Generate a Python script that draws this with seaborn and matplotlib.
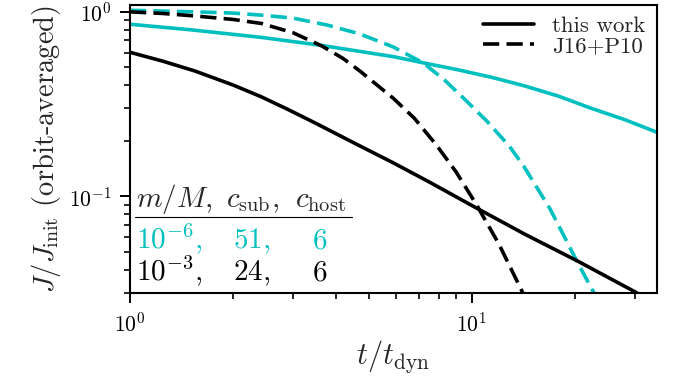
import matplotlib
matplotlib.use("Agg")
import numpy as np
import pandas as pd
import seaborn as sns
import matplotlib.pyplot as plt
from matplotlib.lines import Line2D
from matplotlib.ticker import NullFormatter

# Orbit-averaged J/J_init versus t/t_dyn for two subhalo configurations
mass_ratios = ["10^{-6}", "10^{-3}"]
c_sub = [51, 24]
c_host = [6, 6]
colors = ["#00bfbf", "black"]

# m/M = 1e-6 (cyan)
t_light_this = [1.0, 1.5, 2.43, 3.6, 5.9, 7.2, 9.14, 11.5, 14.3, 18.0, 22.2, 28.0, 34.8]
J_light_this = [0.857, 0.80, 0.727, 0.66, 0.572, 0.53, 0.485, 0.441, 0.397, 0.349,
                0.302, 0.261, 0.223]
t_light_j16 = [1.0, 1.55, 2.0, 2.42, 3.0, 3.76, 4.7, 5.9, 7.2, 8.3, 9.56, 11.1,
               12.9, 14.2, 17.0, 20.6, 22.7, 24.0]
J_light_j16 = [1.02, 1.0, 0.985, 0.96, 0.925, 0.85, 0.76, 0.645, 0.53, 0.43, 0.335,
               0.255, 0.187, 0.146, 0.085, 0.0425, 0.0305, 0.025]

# m/M = 1e-3 (black)
t_heavy_this = [1.0, 1.25, 1.55, 2.0, 2.42, 2.9, 3.47, 4.6, 5.9, 7.5, 10.34, 14.3,
                20.6, 30.0, 34.8]
J_heavy_this = [0.604, 0.54, 0.478, 0.402, 0.347, 0.296, 0.251, 0.192, 0.152, 0.12,
                0.0865, 0.0625, 0.0443, 0.0305, 0.0261]
t_heavy_j16 = [1.0, 1.25, 1.55, 2.0, 2.42, 3.0, 3.64, 4.2, 4.71, 5.9, 6.8, 7.9, 9.0,
               10.34, 12.0, 14.0, 15.0]
J_heavy_j16 = [1.0, 0.98, 0.95, 0.91, 0.866, 0.771, 0.654, 0.56, 0.478, 0.34, 0.265,
               0.189, 0.136, 0.09, 0.0555, 0.031, 0.0233]

models = ["this work", "J16+P10"]


def frame(t, J, mass, model):
    return pd.DataFrame({"t": t, "J": J, "mass": mass, "model": model})


df = pd.concat([
    frame(t_light_this, J_light_this, mass_ratios[0], models[0]),
    frame(t_light_j16, J_light_j16, mass_ratios[0], models[1]),
    frame(t_heavy_this, J_heavy_this, mass_ratios[1], models[0]),
    frame(t_heavy_j16, J_heavy_j16, mass_ratios[1], models[1]),
], ignore_index=True)

sns.set_style("ticks")
plt.rcParams.update({
    "font.family": "serif",
    "font.serif": ["cmr10"],
    "mathtext.fontset": "cm",
    "axes.unicode_minus": False,
    "axes.formatter.use_mathtext": True,
    "axes.linewidth": 1.5,
    "axes.edgecolor": "black",
    "xtick.color": "black",
    "ytick.color": "black",
})

LW = 2.6
dash_style = (4.5, 2.0)

fig = plt.figure(figsize=(6.77, 3.81), dpi=100)
ax = fig.add_axes([0.192, 0.231, 0.778, 0.756])

sns.lineplot(
    data=df, x="t", y="J", hue="mass", style="model",
    palette=dict(zip(mass_ratios, colors)),
    dashes={models[0]: "", models[1]: dash_style},
    estimator=None, sort=True, linewidth=LW, legend=False, ax=ax,
)

ax.set_xscale("log")
ax.set_yscale("log")
ax.set_xlim(1.0, 34.8)
ax.set_ylim(0.03, 1.09)
ax.xaxis.set_minor_formatter(NullFormatter())
ax.yaxis.set_minor_formatter(NullFormatter())

ax.tick_params(which="major", direction="out", length=7.5, width=1.4, labelsize=15.5, pad=6)
ax.tick_params(which="minor", direction="out", length=4.5, width=1.2)

ax.set_xlabel(r"$t/t_{\rm dyn}$", fontsize=22, labelpad=2)
ax.set_ylabel(r"$J/J_{\rm init}$ (orbit-averaged)", fontsize=20.5, labelpad=4)

handles = [
    Line2D([], [], color="black", lw=LW, ls="-"),
    Line2D([], [], color="black", lw=LW, ls=(0, dash_style)),
]
ax.legend(handles, models, loc="upper right", frameon=False, fontsize=16.5,
          handlelength=2.2, handletextpad=0.8, labelspacing=0.0,
          borderpad=0.15, borderaxespad=0.35)

# Parameter table in the lower-left corner
tfs = 21
col_x = [0.011, 0.182, 0.313]
val_x = [0.011, 0.195, 0.345]
ax.text(col_x[0], 0.299, r"$m/M,$", transform=ax.transAxes, fontsize=tfs, va="baseline")
ax.text(col_x[1], 0.299, r"$c_{\rm sub},$", transform=ax.transAxes, fontsize=tfs, va="baseline")
ax.text(col_x[2], 0.299, r"$c_{\rm host}$", transform=ax.transAxes, fontsize=tfs, va="baseline")
ax.add_line(Line2D([0.0095, 0.421], [0.265, 0.265], transform=ax.transAxes,
                   color="black", lw=0.8, clip_on=False))
for row_y, m, cs, ch, col in zip([0.156, 0.045], mass_ratios, c_sub, c_host, colors):
    ax.text(val_x[0], row_y, rf"${m},$", transform=ax.transAxes, fontsize=tfs,
            va="baseline", color=col)
    ax.text(val_x[1], row_y, rf"${cs},$", transform=ax.transAxes, fontsize=tfs,
            va="baseline", color=col)
    ax.text(val_x[2], row_y, rf"${ch}$", transform=ax.transAxes, fontsize=tfs,
            va="baseline", color=col)

fig.savefig("out.png", dpi=100)
